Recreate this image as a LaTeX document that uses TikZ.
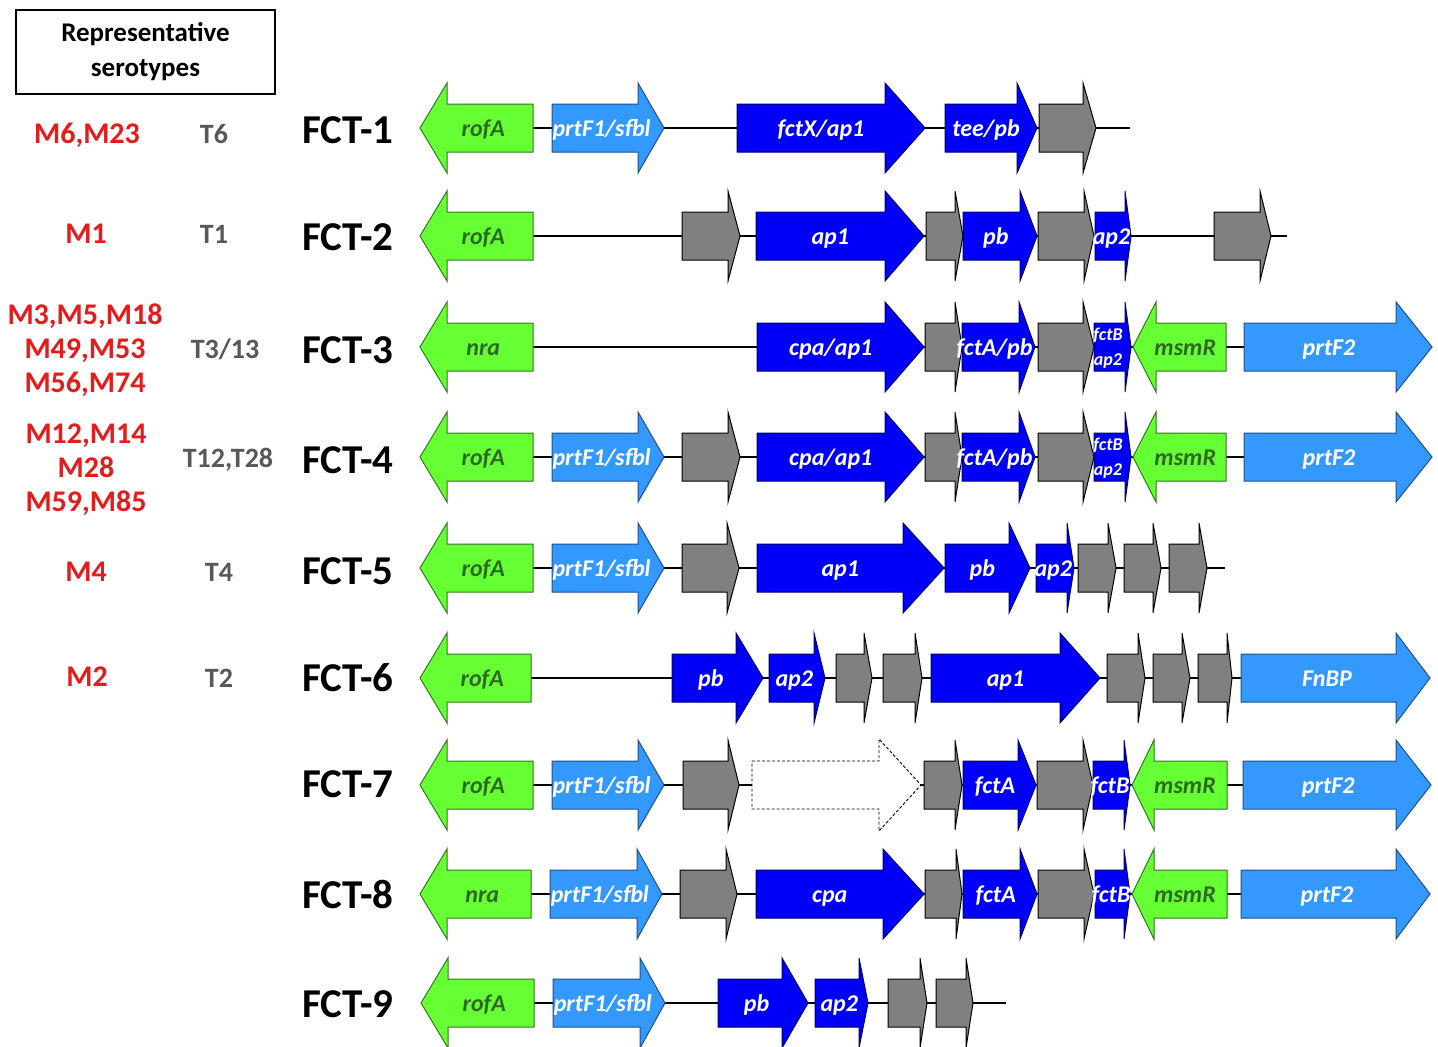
\documentclass[tikz,border=0pt]{standalone}
\usepackage{fontspec}
\setmainfont{Carlito}
\definecolor{ggreen}{RGB}{102,255,51}
\definecolor{ggreenD}{RGB}{50,120,30}
\definecolor{gtext}{RGB}{45,105,35}
\definecolor{lblue}{RGB}{51,153,255}
\definecolor{lblueD}{RGB}{30,80,140}
\definecolor{gblue}{RGB}{0,0,250}
\definecolor{gblueD}{RGB}{0,0,110}
\definecolor{ggrey}{RGB}{128,128,128}
\definecolor{mred}{RGB}{228,28,28}
\definecolor{tgrey}{RGB}{88,88,88}
\newcounter{gnum}
% right-pointing gene: style, textstyle, x1, xhead, xtip, y, label
\newcommand{\RG}[7]{%
  \draw[#1] (#3,#6-24) -- (#4,#6-24) -- (#4,#6-45) -- (#5,#6) -- (#4,#6+45) -- (#4,#6+24) -- (#3,#6+24) -- cycle;
  \stepcounter{gnum}%
  \node[genelabel,#2] (g\arabic{gnum}) at ({(#3+(#4+#5)/2)/2},#6+8) {#7};}
% left-pointing gene: style, textstyle, xtip, xhead, xright, y, label
\newcommand{\LG}[7]{%
  \draw[#1] (#5,#6-24) -- (#4,#6-24) -- (#4,#6-45) -- (#3,#6) -- (#4,#6+45) -- (#4,#6+24) -- (#5,#6+24) -- cycle;
  \stepcounter{gnum}%
  \node[genelabel,#2] (g\arabic{gnum}) at ({(#5+(#3+#4)/2)/2},#6+8) {#7};}
% grey gene without label: x1, xhead, xtip, y
\newcommand{\GG}[4]{%
  \draw[greygene] (#1,#4-24) -- (#2,#4-24) -- (#2,#4-45) -- (#3,#4) -- (#2,#4+45) -- (#2,#4+24) -- (#1,#4+24) -- cycle;}
\begin{document}
\begin{tikzpicture}[x=1pt,y=-1pt,
  greengene/.style={fill=ggreen,draw=ggreenD,line width=1pt,line join=miter},
  lbgene/.style={fill=lblue,draw=lblueD,line width=1pt,line join=miter},
  bluegene/.style={fill=gblue,draw=gblueD,line width=1pt,line join=miter},
  greygene/.style={fill=ggrey,draw=black,line width=1pt,line join=miter},
  dashgene/.style={fill=white,draw=black,line width=0.9pt,dashed,dash pattern=on 3pt off 2pt},
  genelabel/.style={font=\fontsize{24}{27}\selectfont\bfseries\itshape,inner sep=0pt,anchor=base},
  gt/.style={text=gtext},
  wt/.style={text=white},
  backbone/.style={draw=black,line width=2.8pt},
  fct/.style={font=\fontsize{41}{45}\selectfont\bfseries,anchor=west,inner sep=0pt},
  mlab/.style={font=\fontsize{30}{34}\selectfont\bfseries,text=mred,align=center,inner sep=0pt},
  tlab/.style={font=\fontsize{28}{32}\selectfont\bfseries,text=tgrey,inner sep=0pt},
  twoline/.style={font=\fontsize{18}{25}\selectfont\bfseries\itshape,text=white,align=center,inner sep=0pt}
]
\useasboundingbox (0,0) rectangle (1438,1047);
\fill[white] (0,0) rectangle (1438,1047);

% header box
\node[draw=black,line width=1.3pt,minimum width=259pt,minimum height=84pt,align=center,
      font=\fontsize{27}{35}\selectfont\bfseries,inner sep=0pt] (hdr) at (145.5,52) {Representative\\serotypes};

% left labels
\node[mlab] (m1) at (87,135) {M6,M23};
\node[tlab] (t1) at (214,134) {T6};
\node[mlab] (m2) at (86,234) {M1};
\node[tlab] (t2) at (214,234) {T1};
\node[mlab] (m3) at (85,350) {M3,M5,M18\\M49,M53\\M56,M74};
\node[tlab] (t3) at (225,349) {T3/13};
\node[mlab] (m4) at (86,470) {M12,M14\\M28\\M59,M85};
\node[tlab] (t4) at (228,460) {T12,T28};
\node[mlab] (m5) at (86,572) {M4};
\node[tlab] (t5) at (219,572) {T4};
\node[mlab] (m6) at (87,677) {M2};
\node[tlab] (t6) at (219,678) {T2};

% FCT labels
\node[fct] (f1) at (302,130) {FCT-1};
\node[fct] (f2) at (302,237) {FCT-2};
\node[fct] (f3) at (302,350) {FCT-3};
\node[fct] (f4) at (302,460) {FCT-4};
\node[fct] (f5) at (302,571) {FCT-5};
\node[fct] (f6) at (302,678) {FCT-6};
\node[fct] (f7) at (302,784) {FCT-7};
\node[fct] (f8) at (302,894) {FCT-8};
\node[fct] (f9) at (302,1004) {FCT-9};

% backbones
\foreach \yy/\xe [count=\i] in {128/1130,236/1287,347/1420,457/1420,568/1225,678/1420,785/1420,894/1420,1003/1006}{
  \coordinate (bs\i) at (500,\yy);
  \coordinate (be\i) at (\xe,\yy);
  \draw[backbone] (bs\i) -- (be\i);
}

% ---------- FCT-1
\LG{greengene}{gt}{420}{447}{533}{128}{rofA}
\RG{lbgene}{wt}{552}{638}{664}{128}{prtF1/sfbl}
\RG{bluegene}{wt}{737}{885}{925}{128}{fctX/ap1}
\RG{bluegene}{wt}{945}{1017}{1037}{128}{tee/pb}
\GG{1039}{1083}{1096}{128}

% ---------- FCT-2
\LG{greengene}{gt}{420}{447}{533}{236}{rofA}
\GG{682}{728}{740}{236}
\RG{bluegene}{wt}{756}{885}{924}{236}{ap1}
\GG{926}{955}{963}{236}
\RG{bluegene}{wt}{963}{1020}{1037}{236}{pb}
\GG{1038}{1084}{1094}{236}
\RG{bluegene}{wt}{1095}{1125}{1131}{236}{ap2}
\GG{1214}{1260}{1271}{236}

% ---------- FCT-3
\LG{greengene}{gt}{420}{447}{533}{347}{nra}
\RG{bluegene}{wt}{757}{885}{924}{347}{cpa/ap1}
\GG{925}{955}{962}{347}
\RG{bluegene}{wt}{962}{1019}{1035}{347}{fctA/pb}
\GG{1038}{1083}{1094}{347}
\RG{bluegene}{wt}{1094}{1125}{1131}{347}{}
\node[twoline] (fb3) at (1108,348) {fctB\\ap2};
\LG{greengene}{gt}{1133}{1156}{1226}{347}{msmR}
\RG{lbgene}{wt}{1244}{1396}{1432}{347}{prtF2}

% ---------- FCT-4
\LG{greengene}{gt}{420}{447}{533}{457}{rofA}
\RG{lbgene}{wt}{552}{638}{664}{457}{prtF1/sfbl}
\GG{682}{728}{740}{457}
\RG{bluegene}{wt}{757}{885}{924}{457}{cpa/ap1}
\GG{925}{955}{962}{457}
\RG{bluegene}{wt}{962}{1019}{1035}{457}{fctA/pb}
\GG{1038}{1083}{1094}{457}
\RG{bluegene}{wt}{1094}{1125}{1131}{457}{}
\node[twoline] (fb4) at (1108,458) {fctB\\ap2};
\LG{greengene}{gt}{1133}{1156}{1226}{457}{msmR}
\RG{lbgene}{wt}{1244}{1396}{1432}{457}{prtF2}

% ---------- FCT-5
\LG{greengene}{gt}{420}{447}{533}{568}{rofA}
\RG{lbgene}{wt}{552}{638}{664}{568}{prtF1/sfbl}
\GG{682}{727}{739}{568}
\RG{bluegene}{wt}{757}{903}{944}{568}{ap1}
\RG{bluegene}{wt}{945}{1009}{1030}{568}{pb}
\RG{bluegene}{wt}{1036}{1067}{1074}{568}{ap2}
\GG{1078}{1108}{1116}{568}
\GG{1124}{1153}{1161}{568}
\GG{1169}{1199}{1207}{568}

% ---------- FCT-6
\LG{greengene}{gt}{420}{447}{531}{678}{rofA}
\RG{bluegene}{wt}{672}{736}{763}{678}{pb}
\RG{bluegene}{wt}{769}{814}{825}{678}{ap2}
\GG{836}{864}{872}{678}
\GG{883}{915}{922}{678}
\RG{bluegene}{wt}{931}{1060}{1100}{678}{ap1}
\GG{1107}{1138}{1145}{678}
\GG{1153}{1182}{1190}{678}
\GG{1198}{1227}{1232}{678}
\RG{lbgene}{wt}{1241}{1396}{1430}{678}{FnBP}

% ---------- FCT-7
\LG{greengene}{gt}{420}{447}{533}{785}{rofA}
\RG{lbgene}{wt}{552}{638}{664}{785}{prtF1/sfbl}
\GG{683}{728}{739}{785}
\draw[dashgene] (752,785-24) -- (879,785-24) -- (879,785-46) -- (921,785) -- (879,785+46) -- (879,785+24) -- (752,785+24) -- cycle;
\GG{924}{955}{962}{785}
\RG{bluegene}{wt}{963}{1018}{1036}{785}{fctA}
\GG{1037}{1083}{1093}{785}
\RG{bluegene}{wt}{1093}{1124}{1130}{785}{fctB}
\LG{greengene}{gt}{1132}{1154}{1227}{785}{msmR}
\RG{lbgene}{wt}{1243}{1396}{1431}{785}{prtF2}

% ---------- FCT-8
\LG{greengene}{gt}{420}{447}{531}{894}{nra}
\RG{lbgene}{wt}{550}{637}{662}{894}{prtF1/sfbl}
\GG{680}{726}{737}{894}
\RG{bluegene}{wt}{756}{883}{924}{894}{cpa}
\GG{925}{956}{962}{894}
\RG{bluegene}{wt}{963}{1020}{1037}{894}{fctA}
\GG{1038}{1084}{1094}{894}
\RG{bluegene}{wt}{1095}{1124}{1130}{894}{fctB}
\LG{greengene}{gt}{1132}{1154}{1227}{894}{msmR}
\RG{lbgene}{wt}{1241}{1396}{1430}{894}{prtF2}

% ---------- FCT-9
\LG{greengene}{gt}{421}{448}{534}{1003}{rofA}
\RG{lbgene}{wt}{553}{640}{665}{1003}{prtF1/sfbl}
\RG{bluegene}{wt}{718}{782}{808}{1003}{pb}
\RG{bluegene}{wt}{815}{859}{868}{1003}{ap2}
\GG{888}{920}{927}{1003}
\GG{936}{966}{973}{1003}
\end{tikzpicture}
\end{document}
